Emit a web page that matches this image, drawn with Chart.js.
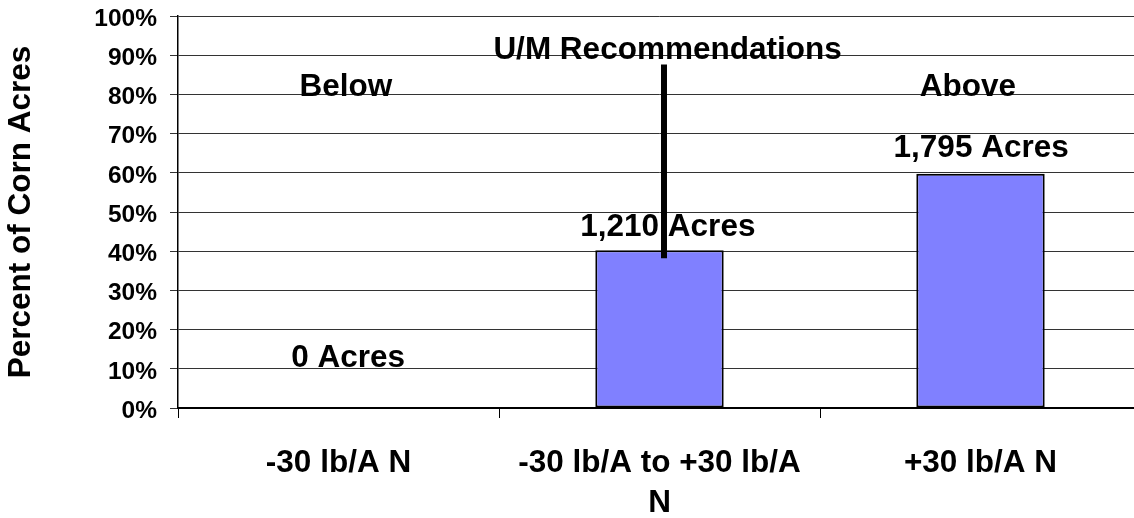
<!DOCTYPE html>
<html>
<head>
<meta charset="utf-8">
<title>Percent of Corn Acres by N Rate</title>
<script src="https://cdn.jsdelivr.net/npm/chart.js@4/dist/chart.umd.min.js"></script>
<style>
  html, body { margin: 0; padding: 0; background: #fff; overflow: hidden; }
  #wrap { width: 1145px; height: 518px; }
</style>
</head>
<body>
<div id="wrap"><canvas id="c" width="1145" height="518"></canvas></div>
<script>
// N-rate groups relative to the U/M recommendation
const categories = ['-30 lb/A N', ['-30 lb/A to +30 lb/A', 'N'], '+30 lb/A N'];
// Corn acres in each group
const acres = [0, 1210, 1795];
// Y-axis tick values (percent)
const yTicks = [0, 10, 20, 30, 40, 50, 60, 70, 80, 90, 100];

const totalAcres = acres.reduce((a, b) => a + b, 0);
const percents = acres.map(a => a / totalAcres * 100);

const FONT = '"Liberation Sans", Arial, sans-serif';
const BIG = 31.5;

// Free-standing notes on the plot, placed in data units (category index, percent)
const notes = [
  { text: 'U/M Recommendations', x: 1.025, y: 91.2 },
  { text: 'Below', x: 0.023, y: 81.8 },
  { text: 'Above', x: 1.961, y: 81.9 }
];
// Recommendation marker line (category index, percent range)
const marker = { x: 1.014, from: 38.2, to: 87.6 };
// Placement of the acreage labels relative to each bar top
const labelShift = [
  { dx: 0.03, dy: 12.7 },
  { dx: 0.026, dy: 5.7 },
  { dx: 0.002, dy: 6.6 }
];

const overlay = {
  id: 'overlay',
  afterDatasetsDraw(chart) {
    const { ctx, scales: { x, y } } = chart;
    ctx.save();
    ctx.fillStyle = '#000';
    ctx.font = 'bold ' + BIG + 'px ' + FONT;
    ctx.textAlign = 'center';
    ctx.textBaseline = 'middle';

    // acreage labels
    acres.forEach((a, i) => {
      const s = labelShift[i];
      const px = x.getPixelForValue(i + s.dx);
      const py = y.getPixelForValue(percents[i] + s.dy);
      ctx.fillText(a.toLocaleString('en-US') + ' Acres', px, py);
    });

    // notes
    notes.forEach(n => {
      ctx.fillText(n.text, x.getPixelForValue(n.x), y.getPixelForValue(n.y));
    });

    // recommendation marker
    ctx.strokeStyle = '#000';
    ctx.lineWidth = 6;
    ctx.beginPath();
    const mx = x.getPixelForValue(marker.x);
    ctx.moveTo(mx, y.getPixelForValue(marker.to));
    ctx.lineTo(mx, y.getPixelForValue(marker.from));
    ctx.stroke();
    ctx.restore();
  }
};

new Chart(document.getElementById('c'), {
  type: 'bar',
  data: {
    labels: categories,
    datasets: [{
      data: percents,
      backgroundColor: '#8080FF',
      borderColor: '#000',
      borderWidth: 2,
      borderSkipped: false,
      categoryPercentage: 1,
      barPercentage: 0.4
    }]
  },
  options: {
    responsive: false,
    animation: false,
    devicePixelRatio: 1,
    layout: { padding: { top: 16, right: 4, bottom: 0, left: 0 } },
    plugins: {
      legend: { display: false },
      tooltip: { enabled: false }
    },
    scales: {
      x: {
        grid: {
          offset: true,
          drawOnChartArea: false,
          drawTicks: true,
          tickLength: 10,
          color: '#000',
          lineWidth: 1
        },
        border: { color: '#000', width: 2 },
        ticks: {
          color: '#000',
          font: { family: FONT, size: BIG, weight: 'bold', lineHeight: 1.27 },
          padding: 25,
          maxRotation: 0,
          autoSkip: false
        },
        afterFit(scale) {
          scale.height = 110;
          scale.paddingLeft = 0;
          scale.paddingRight = 0;
        }
      },
      y: {
        min: 0,
        max: 100,
        afterBuildTicks(scale) { scale.ticks = yTicks.map(v => ({ value: v })); },
        grid: {
          color: '#333',
          lineWidth: 1,
          tickLength: 8
        },
        border: { color: '#000', width: 1.5 },
        ticks: {
          color: '#000',
          font: { family: FONT, size: 24.5, weight: 'bold' },
          padding: 13,
          labelOffset: 3,
          callback: v => v + '%'
        },
        title: {
          display: true,
          text: 'Percent of Corn Acres',
          color: '#000',
          font: { family: FONT, size: BIG, weight: 'bold', lineHeight: 1 },
          padding: { top: 6, bottom: 0 }
        },
        afterFit(scale) {
          scale.width = 178;
          scale.paddingTop = 0;
          scale.paddingBottom = 0;
        }
      }
    }
  },
  plugins: [overlay]
});
</script>
</body>
</html>
